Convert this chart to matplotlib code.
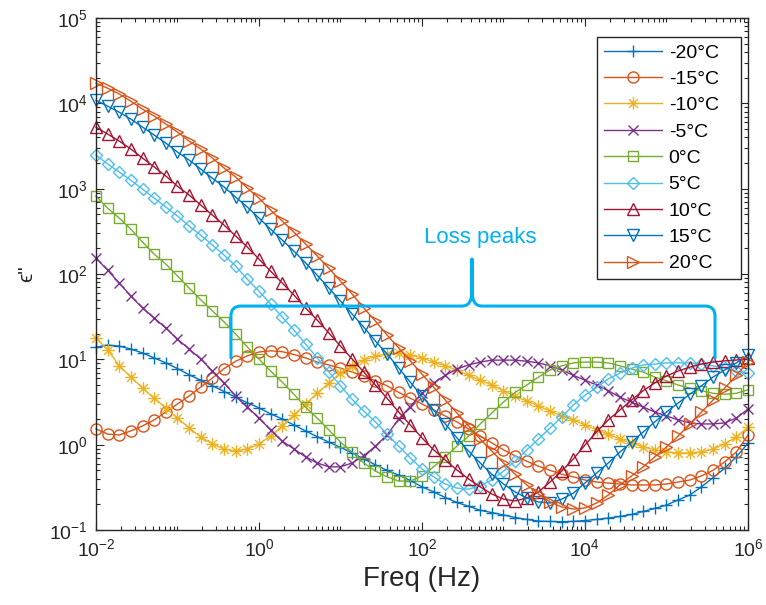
import numpy as np
import matplotlib
matplotlib.use('Agg')
import matplotlib.pyplot as plt
from matplotlib.path import Path
from matplotlib.patches import PathPatch
from matplotlib.ticker import LogLocator, NullFormatter

plt.rcParams['font.family'] = ['Liberation Sans', 'DejaVu Sans']
plt.rcParams['mathtext.fontset'] = 'custom'
plt.rcParams['mathtext.rm'] = 'Liberation Sans'
plt.rcParams['mathtext.it'] = 'Liberation Sans:italic'
plt.rcParams['mathtext.bf'] = 'Liberation Sans:bold'
plt.rcParams['axes.unicode_minus'] = False

# frequency sweep, 7 points per decade from 10 mHz to 1 MHz
freq = np.logspace(-2, 6, 57)

# dielectric loss eps'' for each temperature
eps_m20 = [13.9, 14.7, 14.3, 13.2, 11.9, 10.4, 9.1, 7.8, 6.6, 5.7,
           4.9, 4.2, 3.6, 3.1, 2.7, 2.3, 2.0, 1.7, 1.45, 1.24,
           1.07, 0.93, 0.80, 0.68, 0.58, 0.50, 0.44, 0.38, 0.32, 0.28,
           0.24, 0.21, 0.19, 0.17, 0.16, 0.15, 0.14, 0.133, 0.127, 0.126,
           0.125, 0.126, 0.129, 0.133, 0.138, 0.144, 0.152, 0.165, 0.179, 0.196,
           0.225, 0.257, 0.32, 0.41, 0.53, 0.72, 1.04]
eps_m15 = [1.53, 1.33, 1.30, 1.45, 1.66, 1.95, 2.41, 3.0, 3.72, 4.74,
           6.04, 7.8, 9.5, 11.0, 12.2, 12.6, 12.3, 11.4, 10.4, 9.3,
           8.6, 7.9, 7.1, 6.4, 5.6, 4.9, 4.1, 3.5, 3.0, 2.55,
           2.17, 1.85, 1.53, 1.26, 1.05, 0.87, 0.74, 0.64, 0.56, 0.50,
           0.45, 0.42, 0.385, 0.365, 0.355, 0.346, 0.337, 0.337, 0.337, 0.346,
           0.365, 0.385, 0.43, 0.50, 0.63, 0.82, 1.3]
eps_m10 = [17.8, 13.0, 8.4, 6.2, 4.6, 3.5, 2.7, 2.05, 1.57, 1.23,
           1.02, 0.89, 0.84, 0.89, 1.02, 1.26, 1.66, 2.23, 3.0, 4.0,
           5.3, 6.9, 8.4, 9.8, 10.9, 11.6, 11.9, 11.2, 10.4, 9.3,
           8.4, 7.5, 6.5, 5.7, 5.0, 4.3, 3.7, 3.25, 2.84, 2.48,
           2.17, 1.95, 1.7, 1.49, 1.33, 1.16, 1.05, 0.94, 0.87, 0.82,
           0.80, 0.80, 0.82, 0.89, 1.02, 1.23, 1.6]
eps_m5 = [154, 111, 78.5, 55, 40, 30.5, 23.3, 17.3, 13.2, 10.1,
          7.3, 5.3, 3.7, 2.76, 2.05, 1.49, 1.10, 0.89, 0.72, 0.61,
          0.55, 0.55, 0.61, 0.74, 0.96, 1.30, 2.0, 2.8, 4.0, 5.3,
          6.5, 7.7, 8.6, 9.3, 9.8, 9.8, 9.8, 9.5, 9.1, 8.4,
          7.5, 6.5, 5.7, 5.0, 4.3, 3.6, 3.16, 2.76, 2.41, 2.17,
          1.95, 1.8, 1.75, 1.75, 1.8, 2.05, 2.62]
eps_0 = [820, 593, 453, 336, 237, 171, 131, 95, 68.5, 50,
         37, 27.5, 19.8, 14.0, 10.1, 7.3, 5.4, 3.9, 2.76, 2.05,
         1.49, 1.07, 0.82, 0.61, 0.49, 0.42, 0.375, 0.375, 0.43, 0.55,
         0.72, 0.96, 1.26, 1.75, 2.35, 3.16, 4.1, 5.0, 6.2, 7.5,
         8.4, 9.1, 9.3, 9.3, 9.1, 8.4, 7.7, 7.1, 6.2, 5.6,
         5.0, 4.6, 4.3, 4.0, 3.9, 4.0, 4.4]
eps_5 = [2480, 1950, 1570, 1260, 990, 778, 610, 479, 365, 286,
         219, 167, 124, 87, 63, 44.5, 31.3, 22.1, 15.1, 10.4,
         7.1, 4.9, 3.4, 2.48, 1.85, 1.33, 0.96, 0.70, 0.52, 0.42,
         0.346, 0.31, 0.30, 0.33, 0.385, 0.49, 0.64, 0.87, 1.16, 1.57,
         2.11, 2.92, 3.8, 4.7, 5.9, 6.9, 7.9, 8.6, 8.8, 9.1,
         9.1, 9.1, 8.8, 8.4, 7.9, 7.3, 6.9]
eps_10 = [5280, 4380, 3620, 2920, 2290, 1800, 1410, 1070, 843, 644,
          491, 375, 279, 207, 150, 108, 78.5, 56.8, 40, 28.9,
          20.4, 14.3, 10.1, 7.1, 5.0, 3.5, 2.41, 1.7, 1.2, 0.87,
          0.66, 0.505, 0.396, 0.32, 0.264, 0.23, 0.219, 0.237, 0.279, 0.365,
          0.49, 0.68, 0.99, 1.41, 1.95, 2.55, 3.34, 4.3, 5.3, 6.4,
          7.3, 8.1, 8.8, 9.3, 9.6, 9.8, 10.4]
eps_15 = [10900, 9300, 7900, 6550, 5280, 4260, 3430, 2690, 2170, 1700,
          1330, 1050, 798, 610, 453, 336, 250, 186, 135, 97,
          68.5, 48.3, 34, 23.9, 16.4, 11.6, 7.9, 5.4, 3.7, 2.55,
          1.75, 1.2, 0.84, 0.61, 0.45, 0.346, 0.279, 0.237, 0.213, 0.207,
          0.23, 0.27, 0.355, 0.465, 0.61, 0.82, 1.07, 1.41, 1.85, 2.41,
          3.08, 3.9, 4.9, 6.2, 7.5, 9.1, 11.2]
eps_20 = [17300, 15100, 12900, 10600, 8580, 7110, 5730, 4620, 3620, 2920,
          2290, 1750, 1370, 1020, 778, 562, 418, 310, 225, 163,
          117, 82.8, 58.3, 40, 28.1, 19.3, 13.6, 9.6, 6.7, 4.7,
          3.34, 2.35, 1.66, 1.16, 0.84, 0.61, 0.45, 0.337, 0.264, 0.213,
          0.186, 0.176, 0.181, 0.207, 0.257, 0.337, 0.43, 0.55, 0.72, 0.94,
          1.26, 1.75, 2.41, 3.34, 4.6, 6.5, 9.3]

series = [eps_m20, eps_m15, eps_m10, eps_m5, eps_0, eps_5, eps_10, eps_15, eps_20]
labels = ['-20°C', '-15°C', '-10°C', '-5°C', '0°C', '5°C', '10°C', '15°C', '20°C']
colors = ['#0072BD', '#D95319', '#EDB120', '#7E2F8E', '#77AC30',
          '#4DBEEE', '#A2142F', '#0072BD', '#D95319']

# eight-armed asterisk like MATLAB's '*'
d = 0.707
asterisk = Path([(-1, 0), (1, 0), (0, -1), (0, 1), (-d, -d), (d, d), (-d, d), (d, -d)],
                [Path.MOVETO, Path.LINETO] * 4)
markers = ['+', 'o', asterisk, 'x', 's', 'D', '^', 'v', '>']
sizes = [9, 8, 9, 7.5, 7, 6.5, 8, 8, 8]

ink = '#262626'
cyan = '#00B0F0'

fig = plt.figure(figsize=(7.66, 6.05), dpi=100)
ax = fig.add_axes([0.1253, 0.124, 0.8512, 0.846])

for y, lab, c, m, ms in zip(series, labels, colors, markers, sizes):
    ax.plot(freq, y, color=c, marker=m, ms=ms, mfc='none', mew=1.0,
            lw=1.0, label=lab, clip_on=False)

ax.set_xscale('log')
ax.set_yscale('log')
ax.set_xlim(1e-2, 1e6)
ax.set_ylim(1e-1, 1e5)
ax.set_xticks([1e-2, 1e0, 1e2, 1e4, 1e6])
ax.set_yticks([1e-1, 1e0, 1e1, 1e2, 1e3, 1e4, 1e5])
ax.xaxis.set_minor_locator(LogLocator(base=10, subs=np.arange(1, 10), numticks=100))
ax.yaxis.set_minor_locator(LogLocator(base=10, subs=np.arange(2, 10), numticks=100))
ax.xaxis.set_minor_formatter(NullFormatter())
ax.yaxis.set_minor_formatter(NullFormatter())

ax.tick_params(which='both', direction='in', top=True, right=True,
               color=ink, labelcolor=ink, width=0.8, labelsize=14)
ax.tick_params(which='major', length=6, pad=6)
ax.tick_params(which='minor', length=3)
for s in ax.spines.values():
    s.set_color(ink)
    s.set_linewidth(1.0)

ax.set_xlabel('Freq (Hz)', fontsize=20, color=ink, labelpad=4)
ax.set_ylabel('ϵ"', fontsize=15, color=ink, labelpad=9)

# legend box stretched to a fixed width, entries left aligned
leg = ax.legend(loc='upper left', bbox_to_anchor=(0.768, 0.482, 0.221, 0.481),
                mode='expand', borderaxespad=0,
                fontsize=14, fancybox=False, framealpha=1, edgecolor=ink,
                handlelength=3.0, handletextpad=0.35, labelspacing=0.45,
                borderpad=0.35)
leg.get_frame().set_linewidth(1.0)

# curly bracket grouping the loss peaks
xl, xm, xr = 0.207, 0.5767, 0.9494
yb, ye, ytip = 0.4375, 0.336, 0.529
r, ry = 0.015, 0.0195
dx, dy = 0.0153, 0.029
brace = Path(
    [(xl, ye), (xl, yb - ry), (xl, yb), (xl + r, yb),
     (xm - dx, yb), (xm, yb), (xm, yb + dy), (xm, ytip),
     (xm, yb + dy), (xm, yb), (xm + dx, yb),
     (xr - r, yb), (xr, yb), (xr, yb - ry), (xr, ye)],
    [Path.MOVETO, Path.LINETO, Path.CURVE3, Path.CURVE3,
     Path.LINETO, Path.CURVE3, Path.CURVE3, Path.LINETO,
     Path.LINETO, Path.CURVE3, Path.CURVE3,
     Path.LINETO, Path.CURVE3, Path.CURVE3, Path.LINETO])
ax.add_patch(PathPatch(brace, transform=ax.transAxes, fill=False, edgecolor=cyan,
                       lw=2.2, capstyle='round', joinstyle='round', clip_on=False, zorder=5))
ax.text(0.59, 0.572, 'Loss peaks', transform=ax.transAxes, ha='center', va='center',
        fontsize=16, color=cyan)

fig.savefig('out.png', dpi=100)
